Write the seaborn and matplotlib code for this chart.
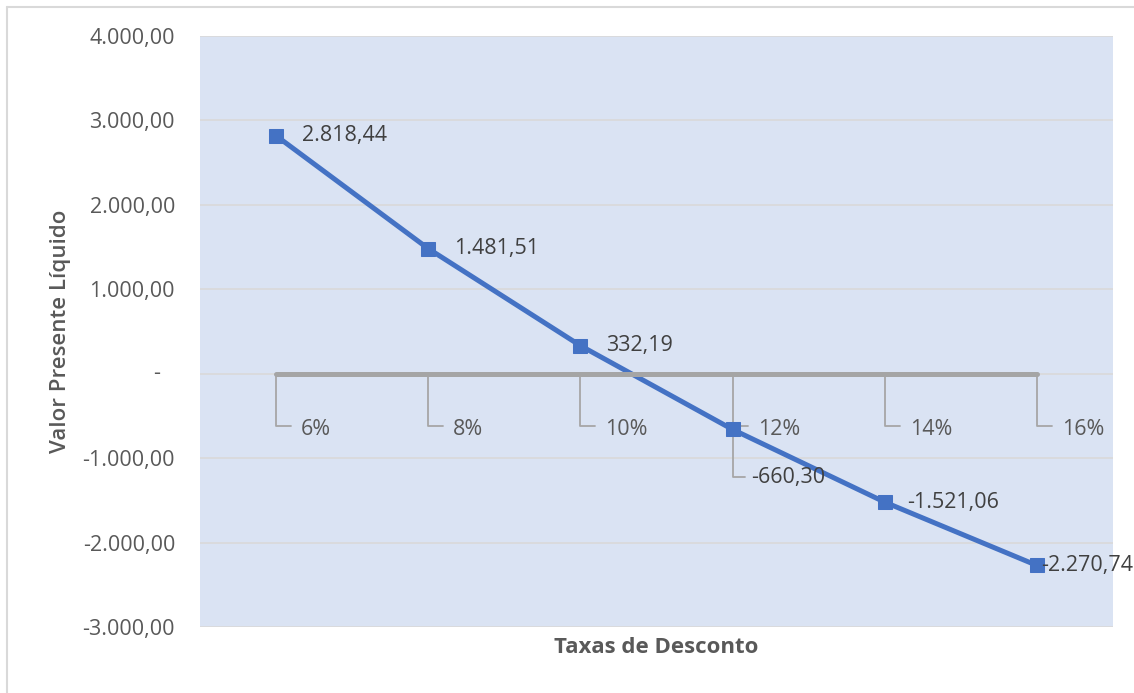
import matplotlib
matplotlib.use("Agg")
import matplotlib.pyplot as plt
import seaborn as sns
import pandas as pd
from matplotlib.lines import Line2D

# ---- data ----
taxas = ["6%", "8%", "10%", "12%", "14%", "16%"]
vpl = [2818.44, 1481.51, 332.19, -660.30, -1521.06, -2270.74]
yticks = [4000, 3000, 2000, 1000, 0, -1000, -2000, -3000]


def fmt_br(v):
    s = f"{abs(v):,.2f}".replace(",", "X").replace(".", ",").replace("X", ".")
    return ("-" if v < 0 else "") + s


sns.set_theme(style="white")
plt.rcParams['font.family'] = ['Open Sans', 'DejaVu Sans']

FS = 15.5
W, H = 1134, 693
fig = plt.figure(figsize=(W / 100, H / 100), dpi=100)
fig.patch.set_facecolor("white")
ax = fig.add_axes([200 / W, 1 - 627 / H, 913 / W, (627 - 36) / H])
ax.set_facecolor("#DAE3F3")

df = pd.DataFrame({"Taxa": taxas, "VPL": vpl})
sns.lineplot(data=df, x="Taxa", y="VPL", sort=False, ax=ax, color="#4472C4",
             linewidth=3.6, marker="s", markersize=10, markeredgecolor="#4472C4",
             markerfacecolor="#4472C4", zorder=4)

n = len(taxas)
ax.set_xlim(-0.5, n - 0.5)
ax.set_ylim(min(yticks), max(yticks))
ax.set_yticks(yticks)
ax.set_yticklabels(["" if t == 0 else fmt_br(t) for t in yticks])
ax.tick_params(axis="y", length=0, pad=18, labelsize=FS, labelcolor="#595959")
ax.set_xticks(range(n))
ax.set_xticklabels([])
ax.tick_params(axis="x", length=0)
ax.grid(axis="y", color="#D9D9D9", linewidth=1.2, zorder=0)
ax.set_axisbelow(True)
for s in ax.spines.values():
    s.set_visible(False)

# zero value label (accounting style dash)
ax.text(-43 / 913, 0, "-", transform=ax.get_yaxis_transform(), ha="center",
        va="center", fontsize=FS, color="#595959")

# zero axis line across categories
ax.plot([0, n - 1], [0, 0], color="#A5A5A5", linewidth=3.6,
        solid_capstyle="round", zorder=5)

# category labels with leader lines
px_x = 913 / n  # pixels per category
px_y = 591 / 7000  # pixels per unit
for i, lab in enumerate(taxas):
    y_end = -52 / px_y
    ax.plot([i, i, i + 15 / px_x], [0, y_end, y_end], color="#A6A6A6",
            linewidth=1.3, zorder=3)
    ax.text(i + 25 / px_x, -56 / px_y, lab, ha="left", va="center",
            fontsize=FS, color="#595959", zorder=6)

# data labels
for i, v in enumerate(vpl):
    txt = fmt_br(v)
    if i == 3:
        y_lab = v - 48 / px_y
        ax.plot([i, i, i + 12 / px_x], [v - 8 / px_y, y_lab, y_lab],
                color="#A6A6A6", linewidth=1.3, zorder=3)
        ax.text(i + 19 / px_x, y_lab, txt, ha="left", va="center",
                fontsize=FS, color="#404040", zorder=6)
    elif i == n - 1:
        ax.text(i + 4 / px_x, v, txt, ha="left", va="center",
                fontsize=FS, color="#404040", zorder=6)
    else:
        off = 22 if i == 4 else 26
        ax.text(i + off / px_x, v, txt, ha="left", va="center",
                fontsize=FS, color="#404040", zorder=6)

ax.set_xlabel("Taxas de Desconto", fontsize=16, fontweight="bold",
              color="#595959")
ax.set_ylabel("Valor Presente Líquido", fontsize=16, fontweight="semibold",
              color="#595959")
ax.yaxis.set_label_coords(-(200 - 71) / 913, 0.5)
ax.xaxis.set_label_coords(0.5, -(637 - 627) / 591)

# chart-area border (left and top visible in reference)
fig.add_artist(Line2D([7 / W, 7 / W], [0, 1 - 7 / H], color="#D9D9D9",
                      linewidth=1.5, transform=fig.transFigure))
fig.add_artist(Line2D([7 / W, 1], [1 - 7 / H, 1 - 7 / H], color="#D9D9D9",
                      linewidth=1.5, transform=fig.transFigure))

fig.savefig("out.png", dpi=100)
